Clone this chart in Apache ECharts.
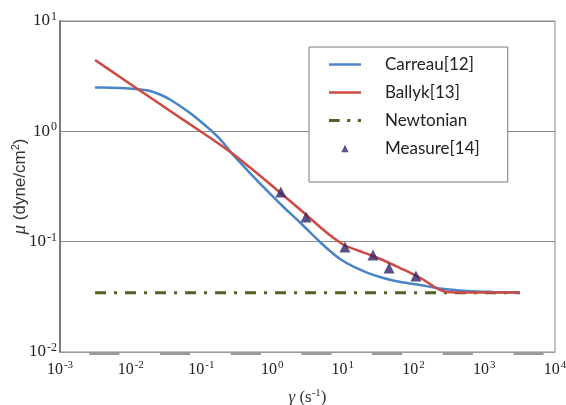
<!DOCTYPE html>
<html>
<head>
<meta charset="utf-8">
<script src="https://cdn.jsdelivr.net/npm/echarts@6/dist/echarts.min.js"></script>
<style>
  html, body { margin: 0; padding: 0; background: #fff; }
  #main { width: 566px; height: 405px; }
</style>
</head>
<body>
<div id="main"></div>
<script>
// values (shear rate in 1/s, viscosity in dyne/cm2 scale)
var carreauX = [0.00313, 0.00509, 0.0083, 0.01353, 0.01874, 0.02596, 0.03594, 0.04978, 0.06893, 0.09545,
                0.1322, 0.1831, 0.2797, 0.4864, 0.8463, 1.4245, 2.478, 4.753, 6.58, 9.118, 13.92,
                21.96, 33.54, 51.22, 80.81, 123.4, 236.7, 570, 1329, 3202];
var carreauY = [2.496, 2.486, 2.46, 2.394, 2.32, 2.157, 1.943, 1.697, 1.466, 1.241,
                1.039, 0.85, 0.6143, 0.4189, 0.2902, 0.2083, 0.1492, 0.0993, 0.0822, 0.0697, 0.0596,
                0.0525, 0.0478, 0.0445, 0.0422, 0.0405, 0.0376, 0.0357, 0.035, 0.0346];

var ballykX = [0.00313, 0.00706, 0.01874, 0.0423, 0.09545, 0.1661, 0.2797, 0.4864, 0.8463, 1.292,
               1.973, 3.113, 4.753, 7.257, 10.73, 16.38, 26.7, 42.12, 64.33, 98.22,
               136, 188.4, 236.7, 297.2, 628.6, 3202];
var ballykY = [4.432, 3.108, 2.034, 1.43, 1.007, 0.792, 0.623, 0.4701, 0.3509, 0.279,
               0.2218, 0.1726, 0.1358, 0.1091, 0.0923, 0.0832, 0.0741, 0.0654, 0.0577, 0.0509,
               0.0454, 0.0396, 0.0365, 0.035, 0.0346, 0.0346];

var newtonX = [0.00313, 3202];
var newtonY = [0.0345, 0.0345];

var measureX = [1.33, 3.01, 10.7, 26.7, 45.0, 108];
var measureY = [0.282, 0.167, 0.0895, 0.0757, 0.0577, 0.0489];

var xTickExp = ['-3', '-2', '-1', '0', '1', '2', '3', '4'];
var yTickExp = ['-2', '-1', '0', '1'];

function pairs(xs, ys) {
  return xs.map(function (x, i) { return [x, ys[i]]; });
}
function expLabel(list, base) {
  return function (v) {
    var e = Math.round(Math.log10(v));
    var idx = e - base;
    if (idx < 0 || idx >= list.length) return '';
    return '{b|10}{s|' + list[idx] + '}';
  };
}

var serif = '"Liberation Serif", "DejaVu Serif", serif';
var sans = '"Liberation Sans", Arial, sans-serif';
function tickRich(big, small) {
  return {
    b: { fontFamily: serif, fontSize: big, color: '#222', lineHeight: 20 },
    s: { fontFamily: serif, fontSize: small, color: '#222', verticalAlign: 'top', lineHeight: 20, padding: [0, 0, 0, 1] }
  };
}

// legend icons
var lineIcon = 'path://M0,0 L32,0 L32,2.5 L0,2.5 Z';
var dashDotIcon = 'path://M0,0 h10 v3 h-10 Z M17,0 h3 v3 h-3 Z M27,0 h3 v3 h-3 Z';
var triIcon = 'path://M0,9.5 L4,1.5 L8,9.5 Z M4,0 L4,0 M4,11 L4,11';

var chart = echarts.init(document.getElementById('main'));
var option = {
  animation: false,
  backgroundColor: '#fff',
  grid: {
    left: 60, top: 21, right: 11, bottom: 53,
    outerBoundsMode: 'none',
    containLabel: false,
    show: true, borderColor: '#8a8a8a', borderWidth: 1
  },
  legend: {
    orient: 'vertical',
    left: 309, top: 47,
    padding: [9, 28, 25, 20],
    itemGap: 11,
    itemWidth: 32, itemHeight: 10,
    backgroundColor: '#fff',
    borderColor: '#7a7a7a', borderWidth: 1,
    textStyle: { fontFamily: 'Lato, "Open Sans", sans-serif', fontSize: 17, color: '#222', padding: [0, 0, 0, 19] },
    data: [
      { name: 'Carreau[12]', icon: lineIcon },
      { name: 'Ballyk[13]', icon: lineIcon },
      { name: 'Newtonian', icon: dashDotIcon },
      { name: 'Measure[14]', icon: triIcon }
    ]
  },
  xAxis: [{
    type: 'log', logBase: 10, min: 0.001, max: 10000,
    name: '{g|γ} (s{s|-1})',
    nameLocation: 'middle', nameGap: 36,
    nameTextStyle: {
      fontFamily: serif, fontSize: 17, color: '#333',
      rich: {
        g: { fontFamily: serif, fontSize: 17, fontStyle: 'italic', color: '#333', lineHeight: 20 },
        s: { fontFamily: serif, fontSize: 11, color: '#333', verticalAlign: 'top', lineHeight: 20 }
      }
    },
    axisLine: { lineStyle: { color: '#9a9a9a', width: 1 } },
    axisTick: { show: false },
    splitLine: { show: false },
    axisLabel: { margin: 8, formatter: expLabel(xTickExp, -3), rich: tickRich(16, 11) }
  }, {
    type: 'log', logBase: 10, min: 0.001, max: 10000,
    position: 'bottom', offset: 2,
    axisLine: { lineStyle: { color: '#9a9a9a', width: 2, type: [28.7, 42], dashOffset: 40.7 } },
    axisTick: { show: false },
    splitLine: { show: false },
    axisLabel: { show: false }
  }],
  yAxis: {
    type: 'log', logBase: 10, min: 0.01, max: 10,
    name: '{m|μ} (dyne/cm{s|2})',
    nameLocation: 'middle', nameGap: 30, nameRotate: 90,
    nameMoveOverlap: false,
    nameTextStyle: {
      fontFamily: sans, fontSize: 17, color: '#333',
      rich: {
        m: { fontFamily: serif, fontSize: 19, fontStyle: 'italic', color: '#333', lineHeight: 20 },
        s: { fontFamily: sans, fontSize: 11, color: '#333', verticalAlign: 'top', lineHeight: 20 }
      }
    },
    axisLine: { show: true, lineStyle: { color: '#7a7a7a', width: 2 } },
    axisTick: { show: false },
    splitLine: { show: true, lineStyle: { color: '#8a8a8a', width: 1 } },
    axisLabel: { margin: 3, formatter: expLabel(yTickExp, -2), rich: tickRich(17, 12) }
  },
  series: [{
    name: 'Carreau[12]', type: 'line', smooth: 0.3, showSymbol: false, symbol: 'none',
    color: '#4a84c4',
    lineStyle: { color: '#4a84c4', width: 2.5 },
    data: pairs(carreauX, carreauY), z: 3
  }, {
    name: 'Ballyk[13]', type: 'line', smooth: 0.3, showSymbol: false, symbol: 'none',
    color: '#cc4a43',
    lineStyle: { color: '#cc4a43', width: 2.5 },
    data: pairs(ballykX, ballykY), z: 4
  }, {
    name: 'Newtonian', type: 'line', showSymbol: false, symbol: 'none',
    color: '#4f6228',
    lineStyle: { color: '#4f6228', width: 3, type: [11, 8, 3, 8] },
    data: pairs(newtonX, newtonY), z: 2
  }, {
    name: 'Measure[14]', type: 'scatter', symbol: 'triangle', symbolSize: 11,
    color: '#2f2468',
    itemStyle: { color: '#2f2468' },
    data: pairs(measureX, measureY), z: 5
  }]
};
chart.setOption(option);
</script>
</body>
</html>
